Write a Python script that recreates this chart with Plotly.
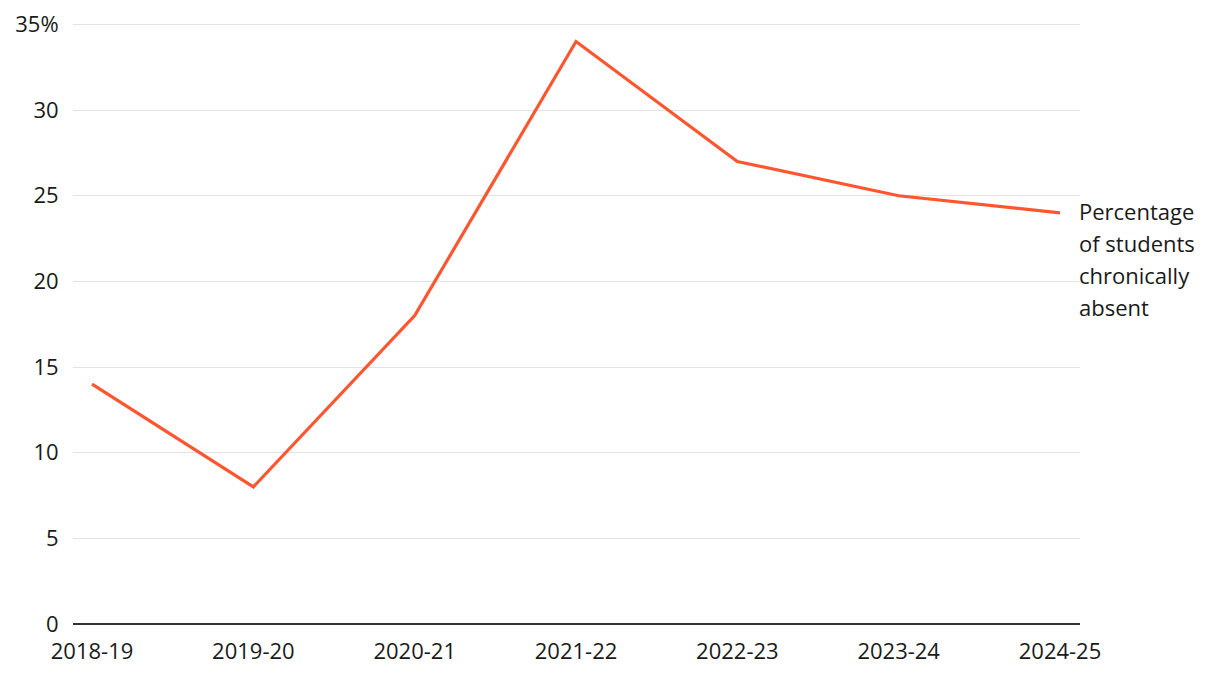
import plotly.graph_objects as go

years = ["2018-19", "2019-20", "2020-21", "2021-22", "2022-23", "2023-24", "2024-25"]
chronic_absence_pct = [14, 8, 18, 34, 27, 25, 24]
y_tick_vals = [0, 5, 10, 15, 20, 25, 30, 35]
y_tick_text = ["0", "5", "10", "15", "20", "25", "30", "35%"]
label_lines = ["Percentage", "of students", "chronically", "absent"]

FONT = "Open Sans"
TXT = "#1a1a1a"
FS = 22
fig = go.Figure()
fig.add_trace(go.Scatter(
    x=list(range(len(years))), y=chronic_absence_pct, mode="lines",
    line=dict(color="#ff5630", width=3.2), hoverinfo="skip", showlegend=False,
))

for i, line in enumerate(label_lines):
    fig.add_annotation(
        x=1, xref="paper", xanchor="left", xshift=-3,
        y=chronic_absence_pct[-1], yref="y", yanchor="middle", yshift=-i * 32 + 2,
        text=line, showarrow=False, align="left",
        font=dict(family=FONT, size=FS, color=TXT),
    )

fig.update_layout(
    width=1212, height=670,
    margin=dict(l=65, r=140, t=13, b=54),
    paper_bgcolor="white", plot_bgcolor="white",
    font=dict(family=FONT, size=FS, color=TXT),
    xaxis=dict(
        range=[-0.118, 6.124], tickvals=list(range(len(years))), ticktext=years,
        showgrid=False, zeroline=False, showline=False, automargin=False,
        ticks="outside", ticklen=8, tickcolor="rgba(0,0,0,0)",
        tickfont=dict(family=FONT, size=FS, color=TXT),
    ),
    yaxis=dict(
        range=[0, 35.2], tickvals=y_tick_vals, ticktext=y_tick_text,
        showgrid=True, gridcolor="#e3e3e3", gridwidth=1,
        zeroline=True, zerolinecolor="#333333", zerolinewidth=2,
        showline=False, automargin=False,
        ticks="outside", ticklen=9, tickcolor="rgba(0,0,0,0)",
        tickfont=dict(family=FONT, size=FS, color=TXT),
    ),
)

fig.write_html("out.html")
